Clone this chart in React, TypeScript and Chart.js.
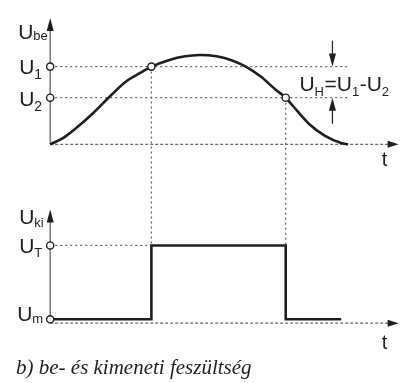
import React, { useEffect, useRef } from 'react';
import { Chart, registerables } from 'chart.js';

Chart.register(...registerables);

// ---- data (time in arbitrary units, voltages in arbitrary units) ----
const inTime = [0, 1.4, 2.7, 4.4, 6.1, 7.7, 9.4, 10.4, 12.1, 13.7, 15.4, 17.1, 18.7, 20.1, 21.6, 23.2, 24.2, 24.9, 26.6, 28.2, 29.9, 30.6];
const inVoltage = [0, 0.35, 0.85, 1.6, 2.45, 3.2, 3.72, 4.0, 4.32, 4.52, 4.6, 4.53, 4.32, 4.0, 3.5, 2.8, 2.4, 2.0, 1.05, 0.45, 0.07, 0];

const outTime = [0, 10.4, 24.2, 29.9];
const outVoltage = [0.2, 4.0, 0.2, 0.2];

const U1 = 4.0;
const U2 = 2.4;
const UT = 4.0;
const UM = 0.2;
const tSwitchOn = 10.4;
const tSwitchOff = 24.2;
const guideEnd = 30.6;
const hystMarkT = 29.0;
const tAxisEnd = 35.8;
const inAxisTop = 6.5;
const outAxisTop = 5.85;

const inLabel = ['U', 'be'];
const outLabel = ['U', 'ki'];
const inLevelLabels = [['U', '1'], ['U', '2']];
const outLevelLabels = [['U', 'T'], ['U', 'm']];
const timeLabel = 't';
const hystText = [['U', 'H'], ['=U', '1'], ['-U', '2']];
const caption = 'b) be- és kimeneti feszültség';

const INK = '#1f1f1f';
const GUIDE = '#6a6a6a';
const SANS = '"Liberation Sans", Arial, sans-serif';

function drawSubText(ctx: CanvasRenderingContext2D, x: number, y: number, parts: string[][], size: number, subSize: number, drop: number) {
  let cx = x;
  for (const [main, sub] of parts) {
    ctx.font = `${size}px ${SANS}`;
    ctx.fillText(main, cx, y);
    cx += ctx.measureText(main).width;
    ctx.font = `${subSize}px ${SANS}`;
    ctx.fillText(sub, cx, y + drop);
    cx += ctx.measureText(sub).width + 0.5;
  }
  return cx;
}

function seg(ctx: CanvasRenderingContext2D, x1: number, y1: number, x2: number, y2: number) {
  ctx.beginPath();
  ctx.moveTo(x1, y1);
  ctx.lineTo(x2, y2);
  ctx.stroke();
}

function arrowHead(ctx: CanvasRenderingContext2D, tipX: number, tipY: number, dir: 'up' | 'down' | 'right', len: number, half: number) {
  ctx.beginPath();
  ctx.moveTo(tipX, tipY);
  if (dir === 'up') { ctx.lineTo(tipX - half, tipY + len); ctx.lineTo(tipX + half, tipY + len); }
  if (dir === 'down') { ctx.lineTo(tipX - half, tipY - len); ctx.lineTo(tipX + half, tipY - len); }
  if (dir === 'right') { ctx.lineTo(tipX - len, tipY - half); ctx.lineTo(tipX - len, tipY + half); }
  ctx.closePath();
  ctx.fill();
}

const figurePlugin = {
  id: 'figure',
  beforeDatasetsDraw(chart: any) {
    const { ctx, scales } = chart;
    const x = (v: number) => scales.x.getPixelForValue(v);
    const yi = (v: number) => scales.yIn.getPixelForValue(v);
    const yo = (v: number) => scales.yOut.getPixelForValue(v);
    ctx.save();
    // vertical axes
    ctx.strokeStyle = '#555';
    ctx.lineWidth = 1.2;
    seg(ctx, x(0), yi(0), x(0), yi(inAxisTop) + 6);
    seg(ctx, x(0), yo(0), x(0), yo(outAxisTop) + 6);
    // dotted guides
    ctx.strokeStyle = GUIDE;
    ctx.lineWidth = 1.3;
    ctx.setLineDash([2, 3]);
    seg(ctx, x(0), yi(U1), x(guideEnd), yi(U1));
    seg(ctx, x(0), yi(U2), x(guideEnd), yi(U2));
    seg(ctx, x(0), yo(UT), x(tSwitchOn), yo(UT));
    seg(ctx, x(tSwitchOn), yi(U1), x(tSwitchOn), yo(UT));
    seg(ctx, x(tSwitchOff), yi(U2), x(tSwitchOff), yo(UT));
    ctx.setLineDash([3, 2]);
    seg(ctx, x(0), yi(0), x(tAxisEnd) - 8, yi(0));
    seg(ctx, x(0), yo(0), x(tAxisEnd) - 8, yo(0));
    ctx.restore();
  },
  afterDatasetsDraw(chart: any) {
    const { ctx, scales } = chart;
    const x = (v: number) => scales.x.getPixelForValue(v);
    const yi = (v: number) => scales.yIn.getPixelForValue(v);
    const yo = (v: number) => scales.yOut.getPixelForValue(v);
    ctx.save();
    ctx.fillStyle = INK;
    ctx.strokeStyle = INK;
    // axis arrow heads
    arrowHead(ctx, x(0), yi(inAxisTop), 'up', 13, 3.5);
    arrowHead(ctx, x(0), yo(outAxisTop), 'up', 13, 3.5);
    arrowHead(ctx, x(tAxisEnd), yi(0), 'right', 11, 3.5);
    arrowHead(ctx, x(tAxisEnd), yo(0), 'right', 11, 3.5);
    // hysteresis arrows
    ctx.lineWidth = 1.2;
    const hx = x(hystMarkT);
    seg(ctx, hx, yi(U1) - 26, hx, yi(U1) - 10);
    arrowHead(ctx, hx, yi(U1), 'down', 13, 3.5);
    seg(ctx, hx, yi(U2) + 10, hx, yi(U2) + 26);
    arrowHead(ctx, hx, yi(U2), 'up', 13, 3.5);
    // labels
    ctx.textBaseline = 'alphabetic';
    ctx.textAlign = 'left';
    const ax = x(0);
    drawSubText(ctx, ax - 32, yi(inAxisTop) + 21, [inLabel], 21, 13, 1);
    drawSubText(ctx, ax - 31, yi(U1) + 7, [inLevelLabels[0]], 21, 14, 5);
    drawSubText(ctx, ax - 31, yi(U2) + 8, [inLevelLabels[1]], 21, 14, 5);
    drawSubText(ctx, ax - 31, yo(outAxisTop) + 15, [outLabel], 21, 13, 3);
    drawSubText(ctx, ax - 31, yo(UT) + 8, [outLevelLabels[0]], 21, 13, 4);
    drawSubText(ctx, ax - 33, yo(UM) + 2, [outLevelLabels[1]], 21, 13, 2);
    drawSubText(ctx, hx - 33, yi(U1) + 24, hystText, 21, 13, 5);
    ctx.font = `20px ${SANS}`;
    ctx.fillText(timeLabel, x(tAxisEnd) - 17, yi(0) + 22);
    ctx.fillText(timeLabel, x(tAxisEnd) - 17, yo(0) + 26);
    // caption
    ctx.font = `italic 21px "Liberation Serif", "Times New Roman", serif`;
    ctx.fillText(caption, 16, 374);
    ctx.restore();
  },
};

export default function App() {
  const ref = useRef<HTMLCanvasElement | null>(null);
  useEffect(() => {
    if (!ref.current) return;
    const inPts = inTime.map((t, i) => ({ x: t, y: inVoltage[i] }));
    const outPts = outTime.map((t, i) => ({ x: t, y: outVoltage[i] }));
    const markerStyle = {
      showLine: false,
      pointRadius: 3.6,
      pointBorderWidth: 1.4,
      pointBackgroundColor: '#ffffff',
      pointBorderColor: INK,
      borderColor: INK,
      backgroundColor: '#ffffff',
      order: 0,
    };
    const chart = new Chart(ref.current, {
      type: 'line',
      data: {
        datasets: [
          {
            data: inPts,
            yAxisID: 'yIn',
            borderColor: INK,
            borderWidth: 2.6,
            pointRadius: 0,
            cubicInterpolationMode: 'monotone',
            fill: false,
            order: 2,
          },
          {
            data: outPts,
            yAxisID: 'yOut',
            borderColor: INK,
            borderWidth: 2.6,
            pointRadius: 0,
            stepped: 'before',
            fill: false,
            order: 2,
          },
          {
            ...markerStyle,
            data: [
              { x: 0, y: U1 },
              { x: 0, y: U2 },
              { x: tSwitchOn, y: U1 },
              { x: tSwitchOff, y: U2 },
            ],
            yAxisID: 'yIn',
          },
          {
            ...markerStyle,
            data: [
              { x: 0, y: UT },
              { x: 0, y: UM },
            ],
            yAxisID: 'yOut',
          },
        ] as any,
      },
      options: {
        animation: false,
        responsive: false,
        events: [],
        layout: { padding: 0 },
        plugins: { legend: { display: false }, tooltip: { enabled: false } },
        scales: {
          x: { type: 'linear', min: -4.6, max: 35.9, display: false },
          yIn: { type: 'linear', min: -12, max: 7.15, display: false },
          yOut: { type: 'linear', min: -2.8, max: 16.35, display: false },
        },
      },
      plugins: [figurePlugin],
    });
    return () => chart.destroy();
  }, []);
  return (
    <div style={{ position: 'absolute', left: 0, top: 0, width: 405, height: 383, background: '#fff' }}>
      <canvas ref={ref} width={405} height={383} style={{ display: 'block' }} />
    </div>
  );
}
